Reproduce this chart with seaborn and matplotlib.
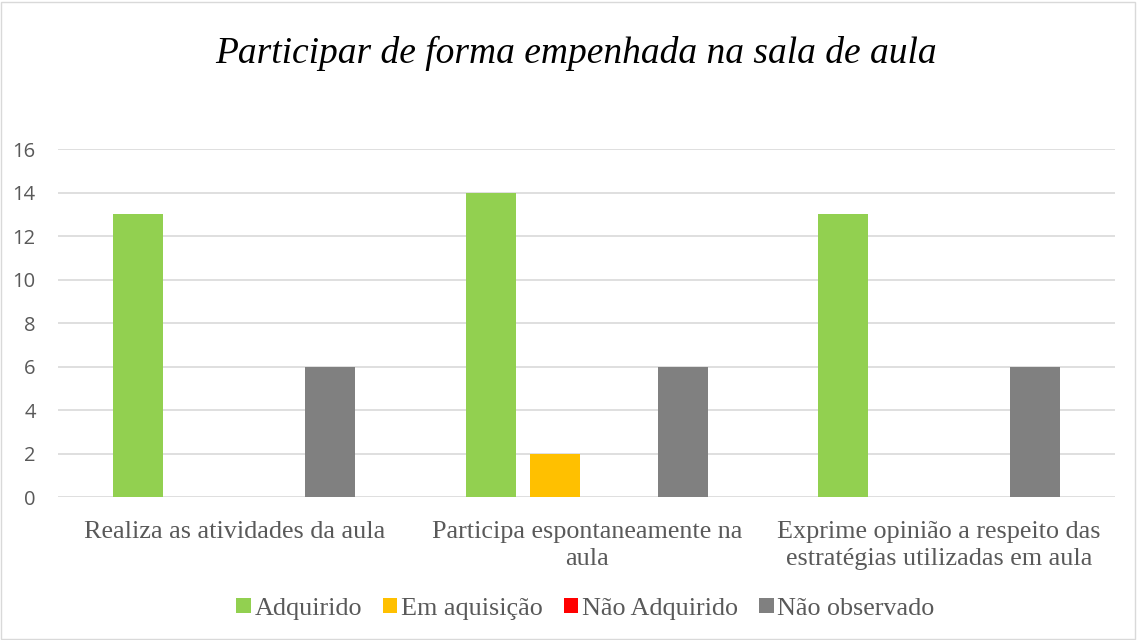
import matplotlib
matplotlib.use("Agg")
import matplotlib.pyplot as plt
import seaborn as sns
import pandas as pd
from matplotlib.patches import Rectangle

# dados
categorias = ["Realiza as atividades da aula",
              "Participa espontaneamente na\naula",
              "Exprime opinião a respeito das\nestratégias utilizadas em aula"]
series = ["Adquirido", "Em aquisição", "Não Adquirido", "Não observado"]
adquirido = [13, 14, 13]
em_aquisicao = [0, 2, 0]
nao_adquirido = [0, 0, 0]
nao_observado = [6, 6, 6]
cores = ["#92D050", "#FFC000", "#FF0000", "#808080"]

valores = [adquirido, em_aquisicao, nao_adquirido, nao_observado]
df = pd.DataFrame({
    "categoria": [c for v in valores for c in categorias],
    "serie": [s for s, v in zip(series, valores) for _ in v],
    "valor": [x for v in valores for x in v],
})

sns.set_style("white")
fig = plt.figure(figsize=(11.37, 6.4), dpi=100)
ax = fig.add_axes([0.051, 0.2234, 0.930, 0.5437])

sns.barplot(data=df, x="categoria", y="valor", hue="serie", order=categorias,
            hue_order=series, palette=cores, width=0.727, gap=0.22,
            linewidth=0, saturation=1, ax=ax, legend=True)

ax.set_ylim(0, 16)
ax.set_yticks(range(0, 17, 2))
ax.set_xlim(-0.5, 2.5)
ax.yaxis.grid(True, color="#D9D9D9", linewidth=1.2)
ax.set_axisbelow(True)
for s in ax.spines.values():
    s.set_visible(False)
ax.set_xlabel("")
ax.set_ylabel("")
ax.tick_params(axis="both", length=0)
ax.tick_params(axis="y", pad=16)
ax.tick_params(axis="x", pad=17)
for t in ax.get_yticklabels():
    t.set_fontfamily("Open Sans")
    t.set_fontsize(14.5)
    t.set_color("#595959")
for t in ax.get_xticklabels():
    t.set_fontfamily("Liberation Serif")
    t.set_fontsize(18.8)
    t.set_color("#595959")
    t.set_linespacing(1.3)

leg = ax.get_legend()
handles = leg.legend_handles
leg.remove()
fig.legend(handles, series, loc="center", bbox_to_anchor=(0.515, 0.049), ncol=4,
           frameon=False, prop={"family": "Liberation Serif", "size": 18.8},
           labelcolor="#595959", handlelength=0.55, handleheight=0.55,
           handletextpad=0.15, columnspacing=0.8)

fig.text(0.507, 0.916, "Participar de forma empenhada na sala de aula",
         ha="center", va="center", family="Liberation Serif", style="italic",
         fontsize=27, color="black")

fig.patches.append(Rectangle((0.001, 0.002), 0.997, 0.995, transform=fig.transFigure,
                             fill=False, edgecolor="#D9D9D9", linewidth=1))

fig.savefig("out.png", dpi=100)
